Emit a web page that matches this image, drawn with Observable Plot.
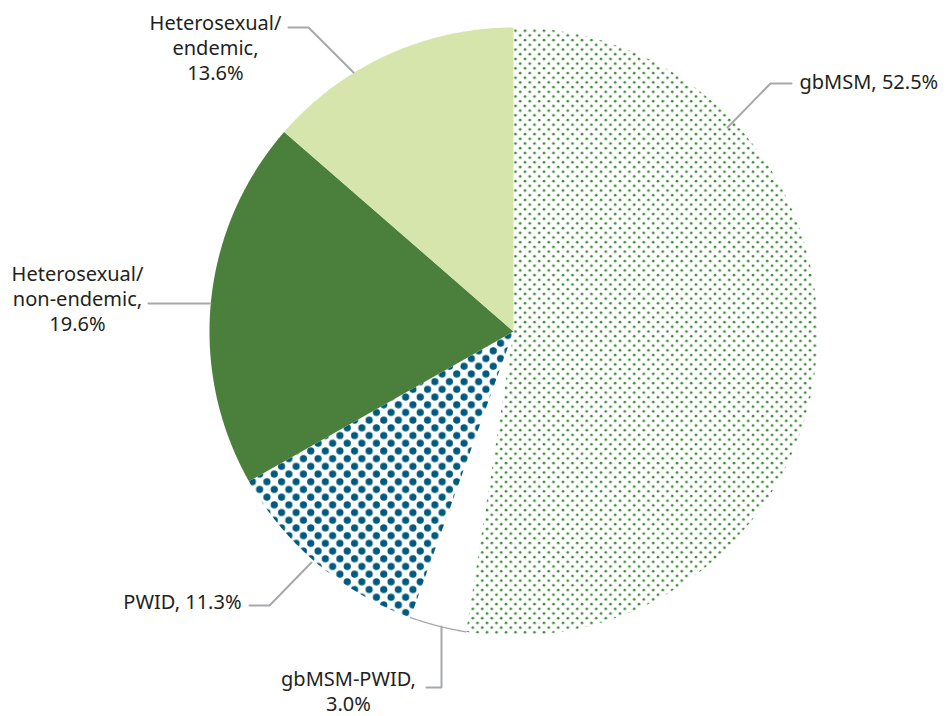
<!DOCTYPE html>
<html><head><meta charset="utf-8">
<script src="https://cdn.jsdelivr.net/npm/d3@7"></script>
<script src="https://cdn.jsdelivr.net/npm/@observablehq/plot@0.6"></script>
<style>body{margin:0;background:#fff} svg{display:block}</style>
</head><body><div id="chart"></div>
<script>
// ---- data ----
const categories = ["gbMSM", "gbMSM-PWID", "PWID", "Heterosexual/non-endemic", "Heterosexual/endemic"];
const values = [52.5, 3.0, 11.3, 19.6, 13.6];
const labels = ["gbMSM, 52.5%", "gbMSM-PWID,\n3.0%", "PWID, 11.3%", "Heterosexual/\nnon-endemic,\n19.6%", "Heterosexual/\nendemic,\n13.6%"];
const fills = ["url(#dotsGreen)", "#ffffff", "url(#dotsTeal)", "#4a803c", "#d5e5ab"];

// ---- layout ----
const W = 949, H = 716, CX = 513, CY = 331, R = 304;
const toU = ([px, py]) => [(px - CX) / R, (CY - py) / R];
const labelLayout = [
  {x: 799, y: 80, anchor: "start", leader: [[727, 127], [770, 83], [791, 83]]},
  {x: 348, y: 690, anchor: "middle", leader: [[441, 626], [441, 687], [426, 687]]},
  {x: 241, y: 600, anchor: "end", leader: [[311, 562], [269, 605], [249, 605]]},
  {x: 77, y: 297, anchor: "middle", leader: [[210, 303], [148, 303]]},
  {x: 215, y: 46, anchor: "middle", leader: [[353, 72], [308, 27], [288, 27]]}
];

// ---- geometry from data ----
const pie = d3.pie().sort(null).value(d => d)(values);
const slicePts = [];
const arcPts = [];
pie.forEach((s, i) => {
  const a0 = s.startAngle, a1 = s.endAngle;
  const n = Math.max(2, Math.ceil((a1 - a0) / 0.005));
  slicePts.push({cat: categories[i], fill: fills[i], x: 0, y: 0});
  for (let k = 0; k <= n; k++) {
    const a = a0 + (a1 - a0) * k / n;
    const p = {cat: categories[i], fill: fills[i], x: Math.sin(a), y: Math.cos(a)};
    slicePts.push(p);
    if (fills[i] === "#ffffff") arcPts.push(p);
  }
});

const labelRows = labels.map((t, i) => {
  const [x, y] = toU([labelLayout[i].x, labelLayout[i].y]);
  return {text: t, x, y, anchor: labelLayout[i].anchor};
});
const leaderPts = [];
labelLayout.forEach((l, i) => l.leader.forEach(pt => {
  const [x, y] = toU(pt);
  leaderPts.push({id: categories[i], x, y});
}));

const textOpts = a => ({x: "x", y: "y", text: "text", textAnchor: a, lineAnchor: "middle",
  fontSize: 20, lineHeight: 1.25, fill: "#231f20"});

const plot = Plot.plot({
  width: W, height: H, margin: 0,
  style: {fontFamily: "'Noto Sans', sans-serif", background: "#fff"},
  x: {domain: [-1, 1], range: [CX - R, CX + R], axis: null},
  y: {domain: [-1, 1], range: [CY + R, CY - R], axis: null},
  color: {type: "identity"},
  marks: [
    Plot.line(slicePts, {x: "x", y: "y", z: "cat", fill: "fill", stroke: "none", curve: "linear-closed"}),
    Plot.line(arcPts, {x: "x", y: "y", stroke: "#a6a8ab", strokeWidth: 1.3}),
    Plot.line(leaderPts, {x: "x", y: "y", z: "id", stroke: "#a6a8ab", strokeWidth: 2}),
    Plot.text(labelRows.filter(d => d.anchor === "start"), textOpts("start")),
    Plot.text(labelRows.filter(d => d.anchor === "middle"), textOpts("middle")),
    Plot.text(labelRows.filter(d => d.anchor === "end"), textOpts("end"))
  ]
});

// patterns
const defs = d3.select(plot).insert("defs", ":first-child");
const pg = defs.append("pattern").attr("id", "dotsGreen").attr("patternUnits", "userSpaceOnUse")
  .attr("width", 9.5).attr("height", 9.4);
pg.append("circle").attr("cx", 2).attr("cy", 2).attr("r", 1.35).attr("fill", "#3f8a3a");
pg.append("circle").attr("cx", 6.75).attr("cy", 6.7).attr("r", 1.35).attr("fill", "#3f8a3a");
const pt = defs.append("pattern").attr("id", "dotsTeal").attr("patternUnits", "userSpaceOnUse")
  .attr("width", 14.6).attr("height", 15.4);
pt.append("circle").attr("cx", 3.65).attr("cy", 3.85).attr("r", 3.6).attr("fill", "#005a7e");
pt.append("circle").attr("cx", 10.95).attr("cy", 11.55).attr("r", 3.6).attr("fill", "#005a7e");

document.getElementById("chart").appendChild(plot);
</script>
</body></html>
